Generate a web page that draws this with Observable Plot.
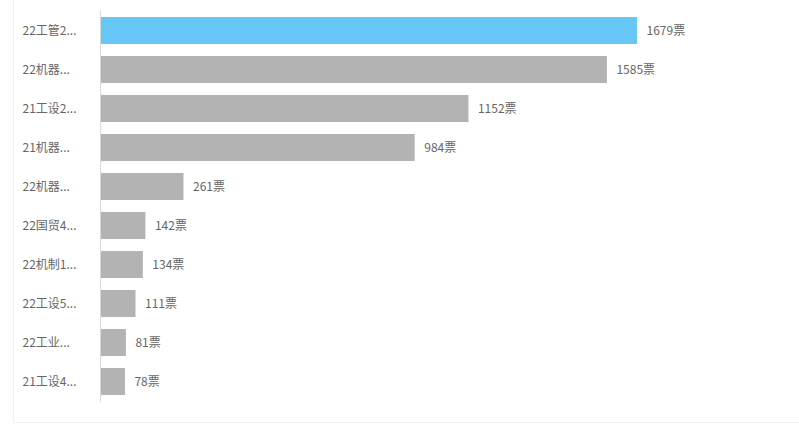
<!DOCTYPE html>
<html>
<head>
<meta charset="utf-8">
<script src="https://cdn.jsdelivr.net/npm/d3@7"></script>
<script src="https://cdn.jsdelivr.net/npm/@observablehq/plot@0.6"></script>
<style>
  html, body { margin: 0; padding: 0; background: #fff; }
  #wrap { position: relative; width: 799px; height: 428px; overflow: hidden; }
  #card { position: absolute; left: 13px; top: 0; width: 786px; height: 423px;
          border-left: 1px solid #f0f0f0; border-bottom: 1px solid #f0f0f0; box-sizing: border-box; }
  #chart { position: absolute; left: 0; top: 0; }
</style>
</head>
<body>
<div id="wrap"><div id="card"></div><div id="chart"></div></div>
<script>
const labels = ["22工管2...", "22机器...", "21工设2...", "21机器...", "22机器...", "22国贸4...", "22机制1...", "22工设5...", "22工业...", "21工设4..."];
const votes = [1679, 1585, 1152, 984, 261, 142, 134, 111, 81, 78];
const highlight = [true, false, false, false, false, false, false, false, false, false];

const data = labels.map((label, i) => ({ rank: i, label, votes: votes[i], top: highlight[i] }));

const chart = Plot.plot({
  width: 799,
  height: 428,
  marginLeft: 100,
  marginRight: 162,
  marginTop: 10,
  marginBottom: 26,
  style: { fontFamily: "'Noto Sans CJK SC', 'Noto Sans', sans-serif", fontSize: "12px", background: "transparent" },
  x: { domain: [0, 1679], axis: null },
  y: { domain: d3.range(labels.length), paddingInner: 0.3, paddingOuter: 0.15, axis: null, label: null },
  marks: [
    Plot.barX(data, { x: "votes", y: "rank", fill: d => d.top ? "#66c6f5" : "#b3b3b3" }),
    Plot.ruleX([0], { stroke: "#d9d9d9", strokeWidth: 1 }),
    Plot.axisY({ tickSize: 0, tickPadding: 0, textAnchor: "start", dx: -78, fill: "#666", fontSize: 12, label: null, tickFormat: i => labels[i] }),
    Plot.text(data, { x: "votes", y: "rank", text: d => d.votes + "票", textAnchor: "start", dx: 9, fill: "#666", fontSize: 12 })
  ]
});
document.getElementById("chart").appendChild(chart);
</script>
</body>
</html>
